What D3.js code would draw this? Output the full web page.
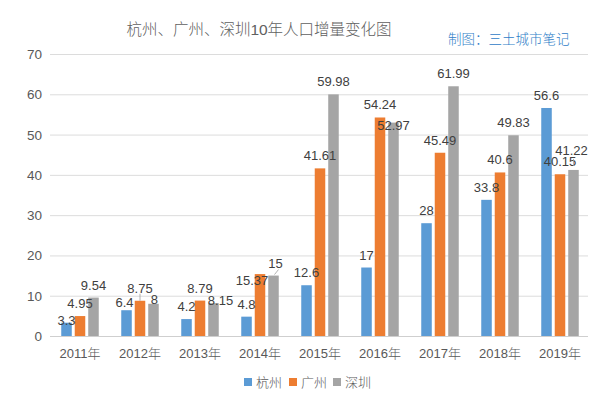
<!DOCTYPE html>
<html><head><meta charset="utf-8">
<script src="https://cdn.jsdelivr.net/npm/d3@7"></script>
<style>
body{margin:0;background:#fff;}
text{font-family:"Liberation Sans","Noto Sans CJK SC",sans-serif;}
.light{font-weight:300;}
</style></head>
<body><svg id="c" width="612" height="399"></svg>
<script>
const years = ["2011年","2012年","2013年","2014年","2015年","2016年","2017年","2018年","2019年"];
const seriesNames = ["杭州","广州","深圳"];
const hangzhou = [3.3,6.4,4.2,4.8,12.6,17,28,33.8,56.6];
const guangzhou = [4.95,8.75,8.79,15.37,41.61,54.24,45.49,40.6,40.15];
const shenzhen = [9.54,8,8.15,15,59.98,52.97,61.99,49.83,41.22];
const yTicks = [0,10,20,30,40,50,60,70];
const colors = ["#5b9bd5","#ed7d31","#a5a5a5"];
const title = "杭州、广州、深圳10年人口增量变化图";
const credit = "制图：三土城市笔记";

const svg = d3.select("#c");
const x0 = d3.scaleBand().domain(years).range([50,590]).paddingInner(0.375).paddingOuter(0.1875);
const x1 = d3.scaleBand().domain(seriesNames).range([0,x0.bandwidth()]).paddingInner(0.22);
const y = d3.scaleLinear().domain([0,70]).range([336,54]);
const values = [hangzhou,guangzhou,shenzhen];

// gridlines
svg.append("g").selectAll("line").data(yTicks).join("line")
  .attr("x1",50).attr("x2",588).attr("y1",d=>y(d)+0.5).attr("y2",d=>y(d)+0.5)
  .attr("stroke",d=>d===0?"#cfcfcf":"#dcdcdc").attr("stroke-width",1);
svg.append("g").selectAll("text").data(yTicks).join("text")
  .attr("x",42).attr("y",d=>y(d)+5).attr("text-anchor","end")
  .attr("font-size",13.5).attr("fill","#595959").text(d=>d);

// x labels
const xAxis = d3.axisBottom(x0).tickSize(0).tickPadding(0);
const gx = svg.append("g").attr("transform","translate(0,346)").call(xAxis);
gx.select(".domain").remove();
gx.selectAll("text").attr("font-size",13).attr("fill","#595959").attr("dy","0.95em")
  .attr("class","light")
  .style("font-family","'Liberation Sans','Noto Sans CJK SC',sans-serif");

// bars
const flat = [];
years.forEach((yr,i)=>seriesNames.forEach((s,j)=>flat.push({yr,s,j,v:values[j][i]})));
svg.append("g").selectAll("rect").data(flat).join("rect")
  .attr("x",d=>x0(d.yr)+x1(d.s)).attr("width",x1.bandwidth())
  .attr("y",d=>y(d.v)).attr("height",d=>y(0)-y(d.v)).attr("fill",d=>colors[d.j]);

// label nudges (layout only)
const nudge = {"2011年|杭州":[0,10],"2012年|杭州":[-2,5],"2012年|深圳":[1,8],"2013年|深圳":[7,10],
  "2014年|广州":[-8,19],"2014年|深圳":[2,0],"2016年|深圳":[0,15],"2019年|深圳":[-2,-7]};
svg.append("g").selectAll("text").data(flat).join("text")
  .attr("x",d=>x0(d.yr)+x1(d.s)+x1.bandwidth()/2+((nudge[d.yr+"|"+d.s]||[0,0])[0]))
  .attr("y",d=>y(d.v)-8+((nudge[d.yr+"|"+d.s]||[0,0])[1]))
  .attr("text-anchor","middle").attr("font-size",13).attr("fill","#404040")
  .text(d=>d.v);

// leader lines
const leaders = [["2012年","广州",-7,0],["2019年","深圳",-11,-4]];
svg.append("g").selectAll("line").data(leaders).join("line")
  .attr("x1",d=>x0(d[0])+x1(d[1])+x1.bandwidth()/2).attr("x2",d=>x0(d[0])+x1(d[1])+x1.bandwidth()/2)
  .attr("y1",d=>y(values[seriesNames.indexOf(d[1])][years.indexOf(d[0])])+d[2])
  .attr("y2",d=>y(values[seriesNames.indexOf(d[1])][years.indexOf(d[0])])+d[3])
  .attr("stroke","#a0a0a0").attr("stroke-width",0.8);
{
  const xx = x0("2014年")+x1("深圳")+x1.bandwidth()/2, yy = y(shenzhen[3]);
  svg.append("line").attr("x1",xx+1).attr("y1",yy-1).attr("x2",xx+5).attr("y2",yy-6)
    .attr("stroke","#a0a0a0").attr("stroke-width",0.8);
}

// title & credit
svg.append("text").attr("class","light").attr("x",259).attr("y",35).attr("text-anchor","middle")
  .attr("font-size",15.5).attr("fill","#606060").text(title);
svg.append("text").attr("class","light").attr("x",448).attr("y",44).attr("font-size",13.5).attr("fill","#2f80c8").text(credit);

// legend
const lg = svg.append("g");
const lx = [244,289,333];
seriesNames.forEach((s,j)=>{
  lg.append("rect").attr("x",lx[j]).attr("y",378).attr("width",8).attr("height",8).attr("fill",colors[j]);
  lg.append("text").attr("class","light").attr("x",lx[j]+12).attr("y",387).attr("font-size",13).attr("fill","#595959").text(s);
});
</script></body></html>
